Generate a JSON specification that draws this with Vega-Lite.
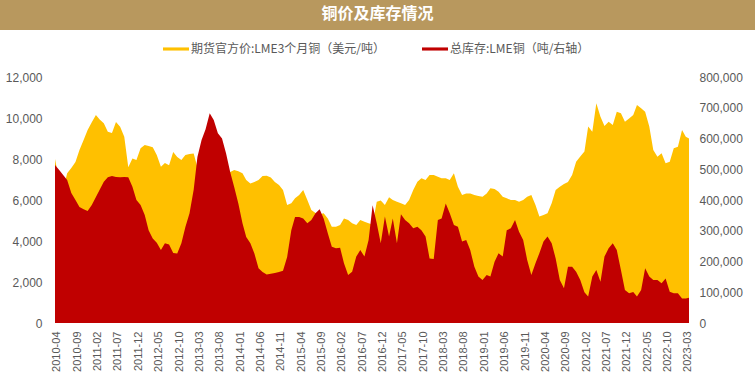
{
  "$schema": "https://vega.github.io/schema/vega-lite/v6.json",
  "autosize": "none",
  "width": 755,
  "height": 356,
  "padding": {"top": 30, "left": 0, "right": 0, "bottom": 0},
  "background": "#B8985E",
  "view": {"fill": "white", "stroke": null},
  "config": {"font": "Liberation Sans"},
  "title": {"text": "铜价及库存情况", "color": "white", "fontSize": 16, "fontWeight": "bold", "font": "Noto Sans CJK SC", "anchor": "middle", "frame": "group", "baseline": "middle", "offset": 0},
  "data": {"values": [
    {"d":"2010-04-01","p":8000,"s":514000},{"d":"2010-05-01","p":7000,"s":498000},{"d":"2010-06-01","p":6500,"s":481000},{"d":"2010-07-01","p":7300,"s":465000},{"d":"2010-08-01","p":7560,"s":423000},{"d":"2010-09-01","p":7850,"s":400000},{"d":"2010-10-01","p":8440,"s":377000},{"d":"2010-11-01","p":8930,"s":370000},{"d":"2010-12-01","p":9410,"s":364000},
    {"d":"2011-01-01","p":9790,"s":384000},{"d":"2011-02-01","p":10150,"s":410000},{"d":"2011-03-01","p":9930,"s":433000},{"d":"2011-04-01","p":9750,"s":459000},{"d":"2011-05-01","p":9330,"s":474000},{"d":"2011-06-01","p":9270,"s":478000},{"d":"2011-07-01","p":9800,"s":475000},{"d":"2011-08-01","p":9570,"s":474000},{"d":"2011-09-01","p":9080,"s":475000},{"d":"2011-10-01","p":7600,"s":474000},{"d":"2011-11-01","p":8030,"s":443000},{"d":"2011-12-01","p":7950,"s":400000},
    {"d":"2012-01-01","p":8520,"s":384000},{"d":"2012-02-01","p":8680,"s":351000},{"d":"2012-03-01","p":8640,"s":302000},{"d":"2012-04-01","p":8570,"s":275000},{"d":"2012-05-01","p":8200,"s":261000},{"d":"2012-06-01","p":7620,"s":237000},{"d":"2012-07-01","p":7800,"s":259000},{"d":"2012-08-01","p":7700,"s":255000},{"d":"2012-09-01","p":8340,"s":228000},{"d":"2012-10-01","p":8100,"s":226000},{"d":"2012-11-01","p":7950,"s":259000},{"d":"2012-12-01","p":8200,"s":312000},
    {"d":"2013-01-01","p":8240,"s":357000},{"d":"2013-02-01","p":8270,"s":433000},{"d":"2013-03-01","p":7600,"s":540000},{"d":"2013-04-01","p":7100,"s":595000},{"d":"2013-05-01","p":7250,"s":630000},{"d":"2013-06-01","p":7000,"s":682000},{"d":"2013-07-01","p":6900,"s":660000},{"d":"2013-08-01","p":7200,"s":617000},{"d":"2013-09-01","p":7150,"s":600000},{"d":"2013-10-01","p":7200,"s":552000},{"d":"2013-11-01","p":7360,"s":491000},{"d":"2013-12-01","p":7460,"s":442000},
    {"d":"2014-01-01","p":7400,"s":389000},{"d":"2014-02-01","p":7300,"s":324000},{"d":"2014-03-01","p":6980,"s":280000},{"d":"2014-04-01","p":6810,"s":259000},{"d":"2014-05-01","p":6880,"s":226000},{"d":"2014-06-01","p":6980,"s":178000},{"d":"2014-07-01","p":7170,"s":166000},{"d":"2014-08-01","p":7180,"s":158000},{"d":"2014-09-01","p":7100,"s":160000},{"d":"2014-10-01","p":6880,"s":163000},{"d":"2014-11-01","p":6730,"s":166000},{"d":"2014-12-01","p":6490,"s":170000},
    {"d":"2015-01-01","p":5760,"s":215000},{"d":"2015-02-01","p":5840,"s":302000},{"d":"2015-03-01","p":6080,"s":345000},{"d":"2015-04-01","p":6240,"s":345000},{"d":"2015-05-01","p":6490,"s":340000},{"d":"2015-06-01","p":6000,"s":324000},{"d":"2015-07-01","p":5510,"s":335000},{"d":"2015-08-01","p":5370,"s":357000},{"d":"2015-09-01","p":5300,"s":370000},{"d":"2015-10-01","p":5350,"s":340000},{"d":"2015-11-01","p":5100,"s":292000},{"d":"2015-12-01","p":4700,"s":248000},
    {"d":"2016-01-01","p":4700,"s":243000},{"d":"2016-02-01","p":4780,"s":245000},{"d":"2016-03-01","p":5100,"s":194000},{"d":"2016-04-01","p":5030,"s":156000},{"d":"2016-05-01","p":4860,"s":167000},{"d":"2016-06-01","p":4780,"s":216000},{"d":"2016-07-01","p":5030,"s":237000},{"d":"2016-08-01","p":4940,"s":216000},{"d":"2016-09-01","p":4860,"s":270000},{"d":"2016-10-01","p":4800,"s":383000},{"d":"2016-11-01","p":5920,"s":324000},{"d":"2016-12-01","p":5970,"s":259000},
    {"d":"2017-01-01","p":5760,"s":346000},{"d":"2017-02-01","p":6130,"s":281000},{"d":"2017-03-01","p":6000,"s":340000},{"d":"2017-04-01","p":5920,"s":259000},{"d":"2017-05-01","p":5840,"s":354000},{"d":"2017-06-01","p":5760,"s":335000},{"d":"2017-07-01","p":6000,"s":324000},{"d":"2017-08-01","p":6490,"s":308000},{"d":"2017-09-01","p":6890,"s":313000},{"d":"2017-10-01","p":7060,"s":302000},{"d":"2017-11-01","p":6980,"s":281000},{"d":"2017-12-01","p":7220,"s":210000},
    {"d":"2018-01-01","p":7220,"s":208000},{"d":"2018-02-01","p":7140,"s":335000},{"d":"2018-03-01","p":7060,"s":340000},{"d":"2018-04-01","p":7060,"s":389000},{"d":"2018-05-01","p":6980,"s":357000},{"d":"2018-06-01","p":7300,"s":319000},{"d":"2018-07-01","p":6650,"s":313000},{"d":"2018-08-01","p":6240,"s":265000},{"d":"2018-09-01","p":6320,"s":270000},{"d":"2018-10-01","p":6320,"s":237000},{"d":"2018-11-01","p":6240,"s":183000},{"d":"2018-12-01","p":6200,"s":151000},
    {"d":"2019-01-01","p":6160,"s":140000},{"d":"2019-02-01","p":6320,"s":156000},{"d":"2019-03-01","p":6570,"s":151000},{"d":"2019-04-01","p":6540,"s":199000},{"d":"2019-05-01","p":6400,"s":227000},{"d":"2019-06-01","p":6160,"s":216000},{"d":"2019-07-01","p":6080,"s":302000},{"d":"2019-08-01","p":6000,"s":308000},{"d":"2019-09-01","p":6000,"s":335000},{"d":"2019-10-01","p":5920,"s":297000},{"d":"2019-11-01","p":6000,"s":270000},{"d":"2019-12-01","p":6160,"s":205000},
    {"d":"2020-01-01","p":6240,"s":156000},{"d":"2020-02-01","p":5760,"s":194000},{"d":"2020-03-01","p":5190,"s":227000},{"d":"2020-04-01","p":5270,"s":265000},{"d":"2020-05-01","p":5350,"s":281000},{"d":"2020-06-01","p":5840,"s":259000},{"d":"2020-07-01","p":6490,"s":210000},{"d":"2020-08-01","p":6650,"s":140000},{"d":"2020-09-01","p":6780,"s":113000},{"d":"2020-10-01","p":6880,"s":183000},{"d":"2020-11-01","p":7220,"s":183000},{"d":"2020-12-01","p":7870,"s":167000},
    {"d":"2021-01-01","p":8120,"s":140000},{"d":"2021-02-01","p":8360,"s":100000},{"d":"2021-03-01","p":9580,"s":86000},{"d":"2021-04-01","p":9330,"s":151000},{"d":"2021-05-01","p":10720,"s":172000},{"d":"2021-06-01","p":10060,"s":134000},{"d":"2021-07-01","p":9610,"s":216000},{"d":"2021-08-01","p":9820,"s":243000},{"d":"2021-09-01","p":9660,"s":259000},{"d":"2021-10-01","p":10310,"s":237000},{"d":"2021-11-01","p":10230,"s":172000},{"d":"2021-12-01","p":9820,"s":107000},
    {"d":"2022-01-01","p":9980,"s":97000},{"d":"2022-02-01","p":10150,"s":101000},{"d":"2022-03-01","p":10630,"s":86000},{"d":"2022-04-01","p":10470,"s":107000},{"d":"2022-05-01","p":10310,"s":178000},{"d":"2022-06-01","p":9580,"s":151000},{"d":"2022-07-01","p":8440,"s":140000},{"d":"2022-08-01","p":8110,"s":140000},{"d":"2022-09-01","p":8280,"s":129000},{"d":"2022-10-01","p":7790,"s":145000},{"d":"2022-11-01","p":7870,"s":102000},{"d":"2022-12-01","p":8520,"s":97000},
    {"d":"2023-01-01","p":8600,"s":97000},{"d":"2023-02-01","p":9410,"s":80000},{"d":"2023-03-01","p":9090,"s":80000},{"d":"2023-03-25","p":9000,"s":82000}
  ]},
  "encoding": {
    "x": {
      "field": "d", "type": "temporal",
      "scale": {"type": "utc", "range": [55, 689], "domain": [{"year": 2010, "month": 4, "date": 1, "utc": true}, {"year": 2023, "month": 3, "date": 25, "utc": true}]},
      "axis": {
        "values": [
          {"year":2010,"month":4,"date":15,"utc":true},{"year":2010,"month":9,"date":15,"utc":true},{"year":2011,"month":2,"date":15,"utc":true},{"year":2011,"month":7,"date":15,"utc":true},{"year":2011,"month":12,"date":15,"utc":true},{"year":2012,"month":5,"date":15,"utc":true},{"year":2012,"month":10,"date":15,"utc":true},{"year":2013,"month":3,"date":15,"utc":true},{"year":2013,"month":8,"date":15,"utc":true},{"year":2014,"month":1,"date":15,"utc":true},{"year":2014,"month":6,"date":15,"utc":true},{"year":2014,"month":11,"date":15,"utc":true},{"year":2015,"month":4,"date":15,"utc":true},{"year":2015,"month":9,"date":15,"utc":true},{"year":2016,"month":2,"date":15,"utc":true},{"year":2016,"month":7,"date":15,"utc":true},{"year":2016,"month":12,"date":15,"utc":true},{"year":2017,"month":5,"date":15,"utc":true},{"year":2017,"month":10,"date":15,"utc":true},{"year":2018,"month":3,"date":15,"utc":true},{"year":2018,"month":8,"date":15,"utc":true},{"year":2019,"month":1,"date":15,"utc":true},{"year":2019,"month":6,"date":15,"utc":true},{"year":2019,"month":11,"date":15,"utc":true},{"year":2020,"month":4,"date":15,"utc":true},{"year":2020,"month":9,"date":15,"utc":true},{"year":2021,"month":2,"date":15,"utc":true},{"year":2021,"month":7,"date":15,"utc":true},{"year":2021,"month":12,"date":15,"utc":true},{"year":2022,"month":5,"date":15,"utc":true},{"year":2022,"month":10,"date":15,"utc":true},{"year":2023,"month":3,"date":15,"utc":true}
        ],
        "format": "%Y-%m",
        "labelAngle": -90, "labelAlign": "right", "labelBaseline": "middle",
        "labelPadding": 8, "labelFontSize": 11, "labelColor": "#595959",
        "labelOverlap": false, "labelFlush": false,
        "domain": false, "ticks": false, "grid": false, "title": null,
        "offset": -63
      }
    }
  },
  "layer": [
    {
      "mark": {"type": "area", "opacity": 1, "interpolate": "linear"},
      "encoding": {
        "y": {"field": "p", "type": "quantitative", "scale": {"domain": [0, 12000], "nice": false, "range": [293, 47]},
          "axis": {"values": [0,2000,4000,6000,8000,10000,12000], "format": ",.0f", "labelFontSize": 12, "labelColor": "#595959", "labelPadding": 13, "domain": false, "ticks": false, "grid": false, "title": null, "offset": -55}},
        "color": {"datum": "期货官方价:LME3个月铜（美元/吨）", "type": "nominal",
          "scale": {"domain": ["期货官方价:LME3个月铜（美元/吨）", "总库存:LME铜（吨/右轴）"], "range": ["#FFC000", "#C00000"]},
          "legend": {"orient": "none", "legendX": 163, "legendY": 6, "direction": "horizontal", "title": null, "padding": 0,
            "symbolType": "M-1,-0.12H1V0.12H-1Z", "symbolSize": 676, "symbolStrokeWidth": 0,
            "labelFontSize": 12, "labelColor": "#595959", "labelFont": "Noto Sans CJK SC", "labelLimit": 400, "columnPadding": 36, "labelOffset": 2}}
      }
    },
    {
      "mark": {"type": "area", "opacity": 1, "interpolate": "linear"},
      "encoding": {
        "y": {"field": "s", "type": "quantitative", "scale": {"domain": [0, 800000], "nice": false, "range": [293, 47]},
          "axis": {"orient": "right", "values": [0,100000,200000,300000,400000,500000,600000,700000,800000], "format": ",.0f", "labelFontSize": 12, "labelColor": "#595959", "labelPadding": 10, "domain": false, "ticks": false, "grid": false, "title": null, "offset": -66}},
        "color": {"datum": "总库存:LME铜（吨/右轴）", "type": "nominal"}
      }
    }
  ],
  "resolve": {"scale": {"y": "independent"}}
}
